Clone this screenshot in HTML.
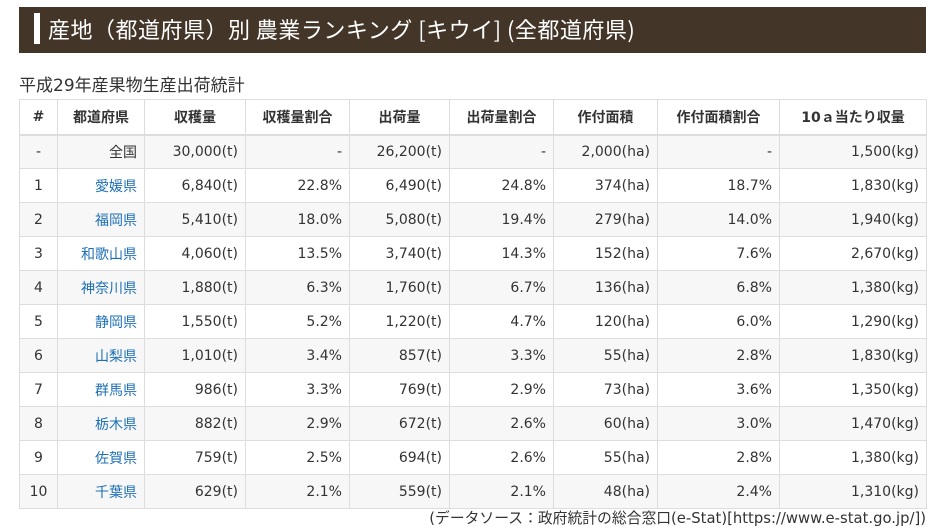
<!DOCTYPE html>
<html><head><meta charset="utf-8">
<style>
html,body{margin:0;padding:0;background:#fff;}
body{width:934px;height:531px;position:relative;overflow:hidden;font-family:"DejaVu Sans","Noto Sans CJK JP",sans-serif;color:#333;}
.hd{position:absolute;left:19px;top:7px;width:907px;height:46px;background:#433629;}
.hd .bar{position:absolute;left:15px;top:6px;width:6px;height:31px;background:#fff;}
.hd .t{position:absolute;left:29px;top:0;line-height:45px;font-size:22px;color:#fff;font-family:"Noto Sans CJK JP","DejaVu Sans",sans-serif;white-space:nowrap;letter-spacing:0.5px;}
.sub{position:absolute;left:19px;top:75px;line-height:22px;font-size:17px;white-space:nowrap;}
table{position:absolute;left:19px;top:99px;width:907px;border-collapse:collapse;table-layout:fixed;font-size:14px;}
td,th{border:1px solid #ddd;padding:0 7px 0 0;text-align:right;white-space:nowrap;overflow:hidden;}
th{font-weight:bold;text-align:center;padding:0;border-bottom:2px solid #ddd;height:32px;}
tr.h{height:35px;}
tr.d{height:34px;}
tr.g td{background:#f7f7f7;}
td.c{text-align:center;padding:0;}
a{color:#1e70b6;text-decoration:none;}
.ft{position:absolute;right:8px;top:508px;line-height:22px;font-size:14.8px;white-space:nowrap;}
</style></head><body>
<div class="hd"><div class="bar"></div><div class="t">産地（都道府県）別 農業ランキング [キウイ] (全都道府県)</div></div>
<div class="sub">平成29年産果物生産出荷統計</div>
<table>
<colgroup><col style="width:38px"><col style="width:87px"><col style="width:101px"><col style="width:104px"><col style="width:100px"><col style="width:104px"><col style="width:104px"><col style="width:122px"><col style="width:147px"></colgroup>
<tr class="h"><th>#</th><th>都道府県</th><th>収穫量</th><th>収穫量割合</th><th>出荷量</th><th>出荷量割合</th><th>作付面積</th><th>作付面積割合</th><th>10ａ当たり収量</th></tr>
<tr class="d g"><td class="c">-</td><td>全国</td><td>30,000(t)</td><td>-</td><td>26,200(t)</td><td>-</td><td>2,000(ha)</td><td>-</td><td>1,500(kg)</td></tr>
<tr class="d"><td class="c">1</td><td><a>愛媛県</a></td><td>6,840(t)</td><td>22.8%</td><td>6,490(t)</td><td>24.8%</td><td>374(ha)</td><td>18.7%</td><td>1,830(kg)</td></tr>
<tr class="d g"><td class="c">2</td><td><a>福岡県</a></td><td>5,410(t)</td><td>18.0%</td><td>5,080(t)</td><td>19.4%</td><td>279(ha)</td><td>14.0%</td><td>1,940(kg)</td></tr>
<tr class="d"><td class="c">3</td><td><a>和歌山県</a></td><td>4,060(t)</td><td>13.5%</td><td>3,740(t)</td><td>14.3%</td><td>152(ha)</td><td>7.6%</td><td>2,670(kg)</td></tr>
<tr class="d g"><td class="c">4</td><td><a>神奈川県</a></td><td>1,880(t)</td><td>6.3%</td><td>1,760(t)</td><td>6.7%</td><td>136(ha)</td><td>6.8%</td><td>1,380(kg)</td></tr>
<tr class="d"><td class="c">5</td><td><a>静岡県</a></td><td>1,550(t)</td><td>5.2%</td><td>1,220(t)</td><td>4.7%</td><td>120(ha)</td><td>6.0%</td><td>1,290(kg)</td></tr>
<tr class="d g"><td class="c">6</td><td><a>山梨県</a></td><td>1,010(t)</td><td>3.4%</td><td>857(t)</td><td>3.3%</td><td>55(ha)</td><td>2.8%</td><td>1,830(kg)</td></tr>
<tr class="d"><td class="c">7</td><td><a>群馬県</a></td><td>986(t)</td><td>3.3%</td><td>769(t)</td><td>2.9%</td><td>73(ha)</td><td>3.6%</td><td>1,350(kg)</td></tr>
<tr class="d g"><td class="c">8</td><td><a>栃木県</a></td><td>882(t)</td><td>2.9%</td><td>672(t)</td><td>2.6%</td><td>60(ha)</td><td>3.0%</td><td>1,470(kg)</td></tr>
<tr class="d"><td class="c">9</td><td><a>佐賀県</a></td><td>759(t)</td><td>2.5%</td><td>694(t)</td><td>2.6%</td><td>55(ha)</td><td>2.8%</td><td>1,380(kg)</td></tr>
<tr class="d g"><td class="c">10</td><td><a>千葉県</a></td><td>629(t)</td><td>2.1%</td><td>559(t)</td><td>2.1%</td><td>48(ha)</td><td>2.4%</td><td>1,310(kg)</td></tr>
</table>
<div class="ft">(データソース：政府統計の総合窓口(e-Stat)[https://www.e-stat.go.jp/])</div>
</body></html>
